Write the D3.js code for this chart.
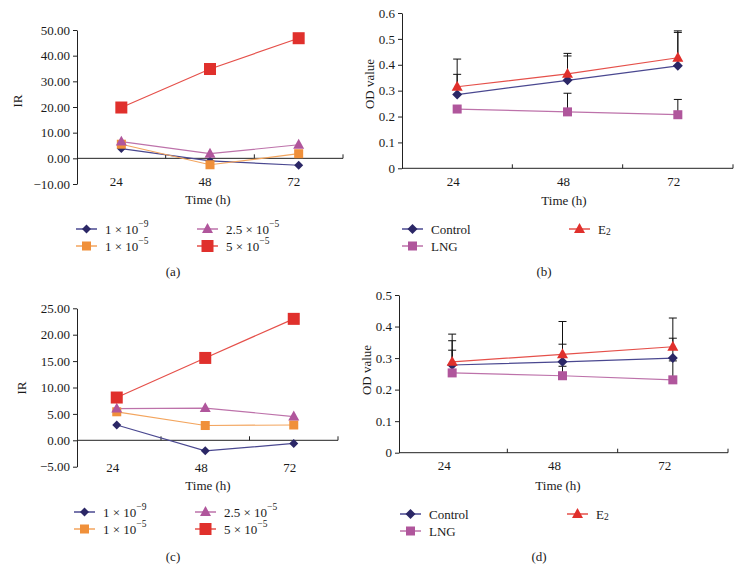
<!DOCTYPE html>
<html><head><meta charset="utf-8">
<script src="https://cdn.jsdelivr.net/npm/d3@7"></script>
<style>
body{margin:0;background:#fff;}
svg text{font-family:"Liberation Serif","Times New Roman",serif;fill:#1a1a1a;}
</style></head>
<body><svg id="c" width="742" height="570"></svg>
<script>
const hours = ["24", "48", "72"];

// Panel (a): IR values
const a1e9 = [3.8, -1.0, -2.7];
const a1e5 = [5.5, -2.5, 1.8];
const a25e5 = [6.5, 1.8, 5.3];
const a5e5 = [19.8, 34.8, 46.8];
const aTicks = [-10, 0, 10, 20, 30, 40, 50];

// Panel (c): IR values
const c1e9 = [2.9, -2.0, -0.6];
const c1e5 = [5.4, 2.8, 2.9];
const c25e5 = [6.0, 6.1, 4.5];
const c5e5 = [8.1, 15.6, 23.0];
const cTicks = [-5, 0, 5, 10, 15, 20, 25];

// Panel (b): OD values
const bControl = [0.285, 0.340, 0.396];
const bControlErr = [0.078, 0.094, 0.129];
const bE2 = [0.315, 0.365, 0.427];
const bE2Err = [0.107, 0.079, 0.104];
const bLNG = [0.229, 0.218, 0.207];
const bLNGErr = [0, 0.072, 0.059];
const bTicks = [0, 0.1, 0.2, 0.3, 0.4, 0.5, 0.6];

// Panel (d): OD values
const dControl = [0.278, 0.288, 0.300];
const dControlErr = [0.077, 0.056, 0.063];
const dE2 = [0.288, 0.312, 0.336];
const dE2Err = [0.088, 0.104, 0.091];
const dLNG = [0.253, 0.244, 0.231];
const dLNGErr = [0.072, 0.03, 0.06];
const dTicks = [0, 0.1, 0.2, 0.3, 0.4, 0.5];

const concLabels = [["1 × 10", "−9"], ["1 × 10", "−5"], ["2.5 × 10", "−5"], ["5 × 10", "−5"]];
const groupLabels = ["Control", "LNG", "E2"];

const C = {
  navy: "#2b2766", navyLine: "#4a4890",
  orange: "#f0903a", orangeLine: "#f3a55e",
  purple: "#b0569c", purpleLine: "#bd72aa",
  red: "#e0302c", redLine: "#e5504a"
};

const svg = d3.select("#c");
const FS = 13;

function drawMark(g, type, x, y, size, fill) {
  if (type === "diamond") {
    const s = size / 2;
    g.append("path").attr("d", `M${x},${y - s}L${x + s},${y}L${x},${y + s}L${x - s},${y}Z`).attr("fill", fill);
  } else if (type === "square") {
    g.append("rect").attr("x", x - size / 2).attr("y", y - size / 2).attr("width", size).attr("height", size).attr("fill", fill);
  } else if (type === "triangle") {
    const h = size * 0.9;
    g.append("path").attr("d", `M${x},${y - h * 0.6}L${x + size / 2},${y + h * 0.4}L${x - size / 2},${y + h * 0.4}Z`).attr("fill", fill);
  }
}

function panel(cfg) {
  const g = svg.append("g");
  const y = d3.scaleLinear().domain(cfg.yDomain).range(cfg.yRange);
  const xb = d3.scaleBand().domain(hours).range(cfg.band);
  const xc = h => xb(h) + xb.bandwidth() / 2;

  // y axis
  const ya = d3.axisLeft(y).tickValues(cfg.yTicks).tickSize(4).tickSizeOuter(0).tickFormat(cfg.fmt);
  const yg = g.append("g").attr("transform", `translate(${cfg.axisX},0)`).call(ya);
  yg.select(".domain").attr("stroke", "#222");
  yg.selectAll(".tick line").attr("stroke", "#222");
  yg.selectAll(".tick text").attr("font-size", FS).attr("fill", "#1a1a1a").attr("x", -7)
    .style("font-family", '"Liberation Serif",serif');

  // x axis line at zero with upward ticks at band boundaries
  const y0 = y(0);
  g.append("line").attr("x1", cfg.axisX).attr("x2", cfg.band[1]).attr("y1", y0).attr("y2", y0).attr("stroke", "#222");
  [1, 2, 3].forEach(i => {
    const bx = i < 3 ? xb(hours[i]) : cfg.band[1];
    g.append("line").attr("x1", bx).attr("x2", bx).attr("y1", y0).attr("y2", y0 - 4).attr("stroke", "#222");
  });
  // category labels
  hours.forEach(h => {
    g.append("text").attr("x", xc(h) + cfg.labelDx).attr("y", cfg.labelY).attr("text-anchor", "middle")
      .attr("dominant-baseline", "central").attr("font-size", FS).text(h);
  });
  // axis titles
  g.append("text").attr("x", cfg.timeX).attr("y", cfg.timeY).attr("text-anchor", "middle")
    .attr("dominant-baseline", "central").attr("font-size", FS).text("Time (h)");
  g.append("text").attr("transform", `translate(${cfg.yTitleX},${cfg.yTitleY}) rotate(-90)`).attr("text-anchor", "middle")
    .attr("dominant-baseline", "central").attr("font-size", FS).text(cfg.yTitle);
  g.append("text").attr("x", cfg.capX).attr("y", cfg.capY).attr("text-anchor", "middle")
    .attr("dominant-baseline", "central").attr("font-size", FS).text(cfg.caption);

  // error bars
  cfg.series.forEach(s => {
    if (!s.err) return;
    s.values.forEach((v, i) => {
      if (!s.err[i]) return;
      const x = xc(hours[i]);
      const yt = y(v + s.err[i]);
      g.append("line").attr("x1", x).attr("x2", x).attr("y1", y(v)).attr("y2", yt).attr("stroke", "#111").attr("stroke-width", 1);
      g.append("line").attr("x1", x - 4).attr("x2", x + 4).attr("y1", yt).attr("y2", yt).attr("stroke", "#111").attr("stroke-width", 1);
    });
  });
  // lines and markers
  const line = d3.line().x((d, i) => xc(hours[i])).y(d => y(d));
  cfg.series.forEach(s => {
    g.append("path").datum(s.values).attr("d", line).attr("fill", "none").attr("stroke", s.lineColor).attr("stroke-width", 1.2);
  });
  cfg.series.forEach(s => {
    s.values.forEach((v, i) => drawMark(g, s.type, xc(hours[i]), y(v), s.size, s.color));
  });

  // legend
  cfg.series.forEach(s => {
    const L = s.legend;
    g.append("line").attr("x1", L.x).attr("x2", L.x + 21).attr("y1", L.y).attr("y2", L.y).attr("stroke", s.lineColor).attr("stroke-width", 1.5);
    drawMark(g, s.type, L.x + 10.5, L.y, s.size, s.color);
    const t = g.append("text").attr("x", L.x + 29).attr("y", L.y).attr("dominant-baseline", "central").attr("font-size", FS);
    if (Array.isArray(s.label)) {
      t.append("tspan").text(s.label[0]);
      t.append("tspan").attr("dy", -5).attr("font-size", 9.5).text(s.label[1]);
    } else if (s.label === "E2") {
      t.append("tspan").text("E");
      t.append("tspan").attr("dy", 3).attr("font-size", 9.5).text("2");
    } else t.text(s.label);
  });
}

const fmtIR = d => (d < 0 ? "−" : "") + Math.abs(d).toFixed(2);
const fmtOD = d => d === 0 ? "0" : d.toFixed(1);

// (a)
panel({
  yDomain: [-10, 50], yRange: [184, 30], yTicks: aTicks, fmt: fmtIR,
  axisX: 77, band: [77, 343], labelY: 181, labelDx: -5,
  timeX: 208, timeY: 199, yTitle: "IR", yTitleX: 17, yTitleY: 101, caption: "(a)", capX: 173, capY: 271,
  series: [
    { values: a1e9, type: "diamond", size: 9, color: C.navy, lineColor: C.navyLine, label: concLabels[0], legend: { x: 76, y: 229 } },
    { values: a1e5, type: "square", size: 9, color: C.orange, lineColor: C.orangeLine, label: concLabels[1], legend: { x: 76, y: 246 } },
    { values: a25e5, type: "triangle", size: 11, color: C.purple, lineColor: C.purpleLine, label: concLabels[2], legend: { x: 197, y: 229 } },
    { values: a5e5, type: "square", size: 12, color: C.red, lineColor: C.redLine, label: concLabels[3], legend: { x: 197, y: 246 } }
  ]
});

// (b)
panel({
  yDomain: [0, 0.6], yRange: [168.3, 13], yTicks: bTicks, fmt: fmtOD,
  axisX: 402, band: [402, 733], labelY: 181, labelDx: -4,
  timeX: 564, timeY: 200, yTitle: "OD value", yTitleX: 369, yTitleY: 84, caption: "(b)", capX: 544, capY: 271,
  series: [
    { values: bControl, err: bControlErr, type: "diamond", size: 10, color: C.navy, lineColor: C.navyLine, label: groupLabels[0], legend: { x: 402, y: 229 } },
    { values: bLNG, err: bLNGErr, type: "square", size: 9, color: C.purple, lineColor: C.purpleLine, label: groupLabels[1], legend: { x: 402, y: 246 } },
    { values: bE2, err: bE2Err, type: "triangle", size: 11, color: C.red, lineColor: C.redLine, label: groupLabels[2], legend: { x: 569, y: 229 } }
  ]
});

// (c)
panel({
  yDomain: [-5, 25], yRange: [466.7, 308.3], yTicks: cTicks, fmt: fmtIR,
  axisX: 77, band: [72.5, 338], labelY: 467, labelDx: -4,
  timeX: 208, timeY: 485, yTitle: "IR", yTitleX: 21, yTitleY: 388, caption: "(c)", capX: 173, capY: 556,
  series: [
    { values: c1e9, type: "diamond", size: 9, color: C.navy, lineColor: C.navyLine, label: concLabels[0], legend: { x: 74, y: 512 } },
    { values: c1e5, type: "square", size: 9, color: C.orange, lineColor: C.orangeLine, label: concLabels[1], legend: { x: 74, y: 529 } },
    { values: c25e5, type: "triangle", size: 11, color: C.purple, lineColor: C.purpleLine, label: concLabels[2], legend: { x: 195, y: 512 } },
    { values: c5e5, type: "square", size: 12, color: C.red, lineColor: C.redLine, label: concLabels[3], legend: { x: 195, y: 529 } }
  ]
});

// (d)
panel({
  yDomain: [0, 0.5], yRange: [452.7, 295], yTicks: dTicks, fmt: fmtOD,
  axisX: 399, band: [397, 728], labelY: 465, labelDx: -8,
  timeX: 558, timeY: 485, yTitle: "OD value", yTitleX: 366, yTitleY: 370, caption: "(d)", capX: 539, capY: 556,
  series: [
    { values: dControl, err: dControlErr, type: "diamond", size: 10, color: C.navy, lineColor: C.navyLine, label: groupLabels[0], legend: { x: 400, y: 514 } },
    { values: dLNG, err: dLNGErr, type: "square", size: 9, color: C.purple, lineColor: C.purpleLine, label: groupLabels[1], legend: { x: 400, y: 531 } },
    { values: dE2, err: dE2Err, type: "triangle", size: 11, color: C.red, lineColor: C.redLine, label: groupLabels[2], legend: { x: 567, y: 514 } }
  ]
});
</script></body></html>
